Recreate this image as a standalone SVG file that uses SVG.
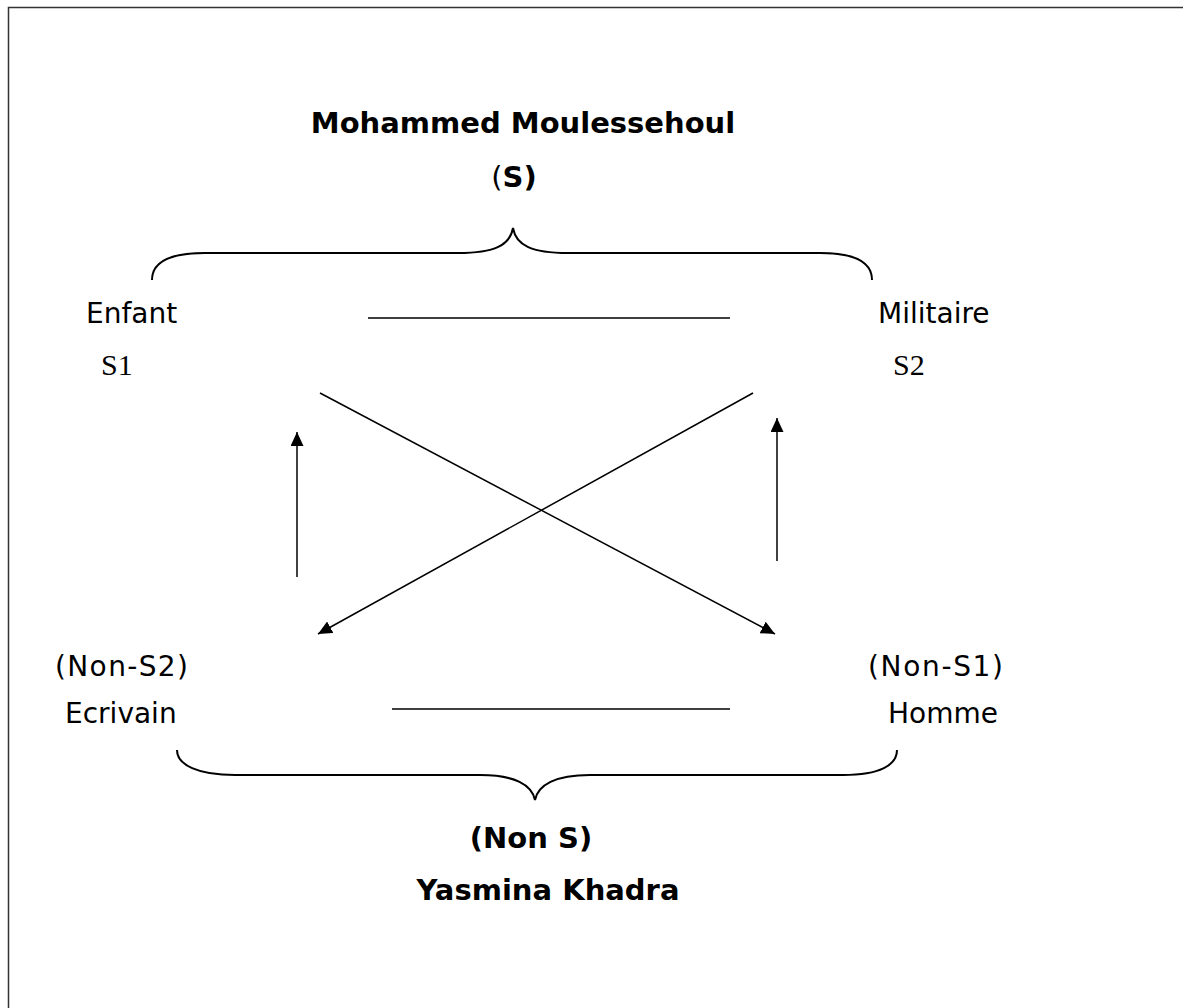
<svg xmlns="http://www.w3.org/2000/svg" width="1183" height="1008" viewBox="0 0 1183 1008">
  <style>
    .lbl { font-family: "DejaVu Sans", Verdana, sans-serif; font-size: 28px; fill: #000; }
    .ttl { font-family: "DejaVu Sans", Verdana, sans-serif; font-size: 29px; font-weight: bold; fill: #000; }
    .sym { font-family: "Liberation Serif", "Times New Roman", serif; font-size: 30px; fill: #000; }
    .ln { stroke: #000; stroke-width: 1.5; fill: none; }
    .brace { stroke: #000; stroke-width: 2; fill: none; }
  </style>
  <defs>
    <marker id="arrow" viewBox="0 0 14 13" refX="14" refY="6.5" markerWidth="14" markerHeight="13" markerUnits="userSpaceOnUse" orient="auto">
      <path d="M0,0 L14,6.5 L0,13 Z" fill="#000"/>
    </marker>
  </defs>

  <rect width="1183" height="1008" fill="#fff"/>
  <!-- page frame, open to the right and bottom -->
  <rect x="8.5" y="7.5" width="1190" height="1010" fill="none" stroke="#333" stroke-width="1.5"/>

  <!-- upper title -->
  <g id="title-s">
    <text class="ttl" x="523" y="133" text-anchor="middle">Mohammed Moulessehoul</text>
    <text class="ttl" x="514" y="187" text-anchor="middle"><tspan font-weight="normal">(</tspan>S)</text>
  </g>

  <!-- braces -->
  <g id="brace-top">
    <path class="brace" d="M152,280 C152,262 170,253 205,253 L458,253 C495,253 510,245 513,228 C516,245 531,253 568,253 L820,253 C855,253 872,262 872,280"/>
  </g>
  <g id="brace-bottom">
    <path class="brace" d="M177,750 C177,765 198,775 235,775 L480,775 C515,775 532,785 535,800 C538,785 555,775 590,775 L843,775 C880,775 897,765 897,750"/>
  </g>

  <!-- corner nodes -->
  <g id="node-s1">
    <text class="lbl" x="86" y="323">Enfant</text>
    <text class="sym" x="101" y="375">S1</text>
  </g>
  <g id="node-s2">
    <text class="lbl" x="878" y="323">Militaire</text>
    <text class="sym" x="893" y="375">S2</text>
  </g>
  <g id="node-non-s2">
    <text class="lbl" x="55" y="676" textLength="133" lengthAdjust="spacing">(Non-S2)</text>
    <text class="lbl" x="65" y="723">Ecrivain</text>
  </g>
  <g id="node-non-s1">
    <text class="lbl" x="868" y="676" textLength="135" lengthAdjust="spacing">(Non-S1)</text>
    <text class="lbl" x="888" y="723">Homme</text>
  </g>

  <!-- lower title -->
  <g id="title-non-s">
    <text class="ttl" x="531" y="848" text-anchor="middle">(Non S)</text>
    <text class="ttl" x="548" y="900" text-anchor="middle">Yasmina Khadra</text>
  </g>

  <!-- square relations -->
  <g id="connectors">
    <line class="ln" x1="368" y1="318" x2="730" y2="318"/>
    <line class="ln" x1="392" y1="709" x2="730" y2="709"/>
    <line class="ln" x1="320" y1="393" x2="775" y2="634" marker-end="url(#arrow)"/>
    <line class="ln" x1="753" y1="393" x2="318" y2="634" marker-end="url(#arrow)"/>
    <line class="ln" x1="297" y1="577" x2="297" y2="432" marker-end="url(#arrow)"/>
    <line class="ln" x1="777" y1="561" x2="777" y2="418" marker-end="url(#arrow)"/>
  </g>
</svg>
